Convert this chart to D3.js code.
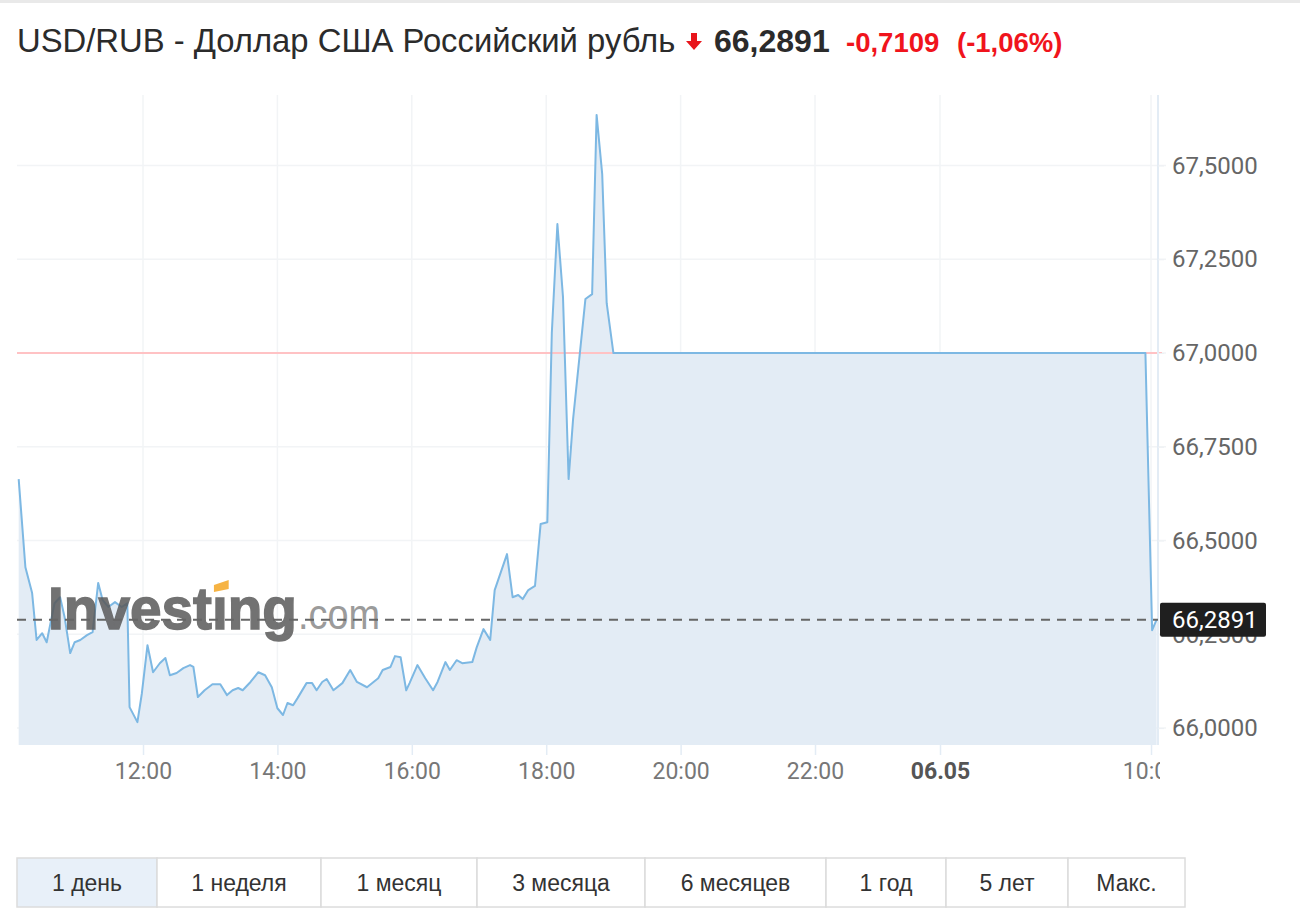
<!DOCTYPE html>
<html>
<head>
<meta charset="utf-8">
<script src="https://cdn.jsdelivr.net/npm/d3@7"></script>
<style>
  body { margin: 0; background: #fff; }
</style>
</head>
<body>
<div id="chart"></div>
<script>
// USD/RUB intraday, 05.05 10:09 -> 06.05 10:05
const day1Times = ["10:09","10:15","10:21","10:25","10:30","10:34","10:41","10:46","10:50","10:55",
  "10:59","11:04","11:10","11:15","11:20","11:24","11:29","11:35","11:41","11:46",
  "11:48","11:55","11:59","12:04","12:09","12:15","12:20","12:24","12:30","12:36",
  "12:42","12:45","12:49","12:55","13:02","13:09","13:15","13:20","13:25","13:29",
  "13:36","13:43","13:49","13:55","14:00","14:05","14:09","14:14","14:18","14:26",
  "14:31","14:35","14:40","14:44","14:50","14:58","15:05","15:11","15:20","15:30",
  "15:34","15:41","15:45","15:50","15:55","15:58","16:05","16:12","16:19","16:23",
  "16:30","16:34","16:40","16:45","16:54","16:58","17:04","17:10","17:14","17:25",
  "17:30","17:35","17:39","17:44","17:50","17:55","18:01","18:05","18:10","18:15",
  "18:20","18:24","18:35","18:41","18:45","18:50","18:54","19:00"];
const day1Values = [66.664,66.429,66.360,66.235,66.253,66.229,66.333,66.349,66.296,66.200,
  66.229,66.235,66.248,66.256,66.387,66.341,66.323,66.336,66.323,66.333,
  66.056,66.016,66.093,66.221,66.149,66.173,66.187,66.141,66.147,66.160,
  66.168,66.163,66.083,66.101,66.117,66.117,66.088,66.101,66.107,66.101,
  66.123,66.149,66.141,66.109,66.053,66.035,66.067,66.061,66.080,66.120,
  66.120,66.101,66.123,66.131,66.101,66.120,66.155,66.123,66.109,66.133,
  66.155,66.163,66.192,66.189,66.101,66.120,66.168,66.133,66.101,66.123,
  66.176,66.155,66.181,66.173,66.176,66.216,66.264,66.235,66.368,66.464,
  66.349,66.355,66.344,66.368,66.379,66.544,66.549,67.053,67.344,67.149,
  66.664,66.824,67.144,67.157,67.635,67.477,67.133,67.000];
const day2Times = ["09:55","10:01","10:05"];
const day2Values = [67.000,66.261,66.2891];

const prevClose = 67.0;
const lastPrice = 66.2891;
const change = -0.7109;
const changePct = -1.06;

const xTickHours = [12, 14, 16, 18, 20, 22, 23.86, 27];
const xTickLabels = ["12:00","14:00","16:00","18:00","20:00","22:00","06.05","10:00"];
const yTicks = [66, 66.25, 66.5, 66.75, 67, 67.25, 67.5];
const ranges = ["1 день","1 неделя","1 месяц","3 месяца","6 месяцев","1 год","5 лет","Макс."];

const W = 1300, H = 922;
const PLOT = {LEFT: 17, RIGHT: 1158, TOP: 95, BOTTOM: 745};

// chart hours: night gap 00:00-07:00 is cut out, so day 2 is shifted by 17h
function toHours(s, day) {
  const [h, m] = s.split(":").map(Number);
  return h + m / 60 + (day === 2 ? 17 : 0);
}
const data = day1Times.map((t, i) => ({t: toHours(t, 1), v: day1Values[i]}))
  .concat(day2Times.map((t, i) => ({t: toHours(t, 2), v: day2Values[i]})));

const ru = d3.formatLocale({decimal: ",", thousands: " ", grouping: [3], currency: ["", ""], minus: "-"});
const fmt4 = ru.format(".4f");
const fmt2 = ru.format(".2f");

const svg = d3.select("#chart").append("svg")
  .attr("width", W).attr("height", H)
  .style("font-family", "'Liberation Sans', Arial, sans-serif");

svg.append("rect").attr("x", 0).attr("y", 0).attr("width", W).attr("height", 3).attr("fill", "#e9e9e9");

const x = d3.scaleLinear().domain([10.125, 27.104]).range([PLOT.LEFT, PLOT.RIGHT]);
const y = d3.scaleLinear().domain([65.955, 67.688]).range([PLOT.BOTTOM, PLOT.TOP]);

// title
svg.append("text").attr("x", 17).attr("y", 52)
  .attr("font-size", 32.8).attr("fill", "#2b2b2b")
  .text("USD/RUB - Доллар США Российский рубль");
svg.append("path")
  .attr("d", "M691,33 h6 v8 h5 l-8,9 l-8,-9 h5 z")
  .attr("fill", "#e8161c");
svg.append("text").attr("x", 714).attr("y", 52)
  .attr("font-size", 32).attr("font-weight", "bold").attr("fill", "#2b2b2b")
  .text(fmt4(lastPrice));
svg.append("text").attr("x", 846).attr("y", 52)
  .attr("font-size", 27.5).attr("font-weight", "bold").attr("fill", "#f0141c")
  .text(fmt4(change));
svg.append("text").attr("x", 957).attr("y", 52)
  .attr("font-size", 27.5).attr("font-weight", "bold").attr("fill", "#f0141c")
  .text("(" + fmt2(changePct) + "%)");

// grid
const grid = svg.append("g").attr("stroke", "#f2f4f6").attr("stroke-width", 1.5);
grid.selectAll("line.h").data(yTicks).join("line").attr("class", "h")
  .attr("x1", PLOT.LEFT).attr("x2", PLOT.RIGHT + 8)
  .attr("y1", d => y(d)).attr("y2", d => y(d));
grid.selectAll("line.v").data(xTickHours).join("line").attr("class", "v")
  .attr("x1", d => x(d)).attr("x2", d => x(d))
  .attr("y1", PLOT.TOP).attr("y2", PLOT.BOTTOM);

// area + line
svg.append("path").datum(data)
  .attr("d", d3.area().x(d => x(d.t)).y0(PLOT.BOTTOM).y1(d => y(d.v)))
  .attr("fill", "#e3ecf5");

svg.append("line")
  .attr("x1", PLOT.LEFT).attr("x2", PLOT.RIGHT + 4)
  .attr("y1", y(prevClose)).attr("y2", y(prevClose))
  .attr("stroke", "#ffc2c4").attr("stroke-width", 2);

svg.append("path").datum(data)
  .attr("d", d3.line().x(d => x(d.t)).y(d => y(d.v)))
  .attr("fill", "none").attr("stroke", "#7db8e3").attr("stroke-width", 2)
  .attr("stroke-linejoin", "round");

// right border of plot
svg.append("line").attr("x1", PLOT.RIGHT).attr("x2", PLOT.RIGHT)
  .attr("y1", PLOT.TOP).attr("y2", PLOT.BOTTOM)
  .attr("stroke", "#e3ecf5").attr("stroke-width", 2);

// watermark
const wm = svg.append("g").attr("opacity", 0.85);
const inv = wm.append("text").attr("x", 48).attr("y", 629)
  .attr("font-size", 60).attr("font-weight", "bold").attr("fill", "#5a5a5a")
  .attr("stroke", "#5a5a5a").attr("stroke-width", 1.5)
  .attr("textLength", 249).attr("lengthAdjust", "spacingAndGlyphs")
  .text("Investıng");
wm.append("text").attr("x", 298).attr("y", 629)
  .attr("font-size", 42).attr("fill", "#8a8a8a")
  .attr("textLength", 82).attr("lengthAdjust", "spacingAndGlyphs")
  .text(".com");
const dot = inv.node().getExtentOfChar(6);
wm.append("path")
  .attr("d", `M${dot.x + 2},${585} l${dot.width - 1},-5 v9 l-${dot.width - 1},3 z`)
  .attr("fill", "#f5a623");

// last price dashed line
svg.append("line")
  .attr("x1", PLOT.LEFT).attr("x2", PLOT.RIGHT)
  .attr("y1", y(lastPrice)).attr("y2", y(lastPrice))
  .attr("stroke", "#666").attr("stroke-width", 2).attr("stroke-dasharray", "9,7");

// x axis (last label is cut by the plot edge, as on the site)
svg.append("clipPath").attr("id", "xclip")
  .append("rect").attr("x", 0).attr("y", 0).attr("width", PLOT.RIGHT + 2).attr("height", 60);
const xAxis = svg.append("g").attr("clip-path", "url(#xclip)")
  .attr("transform", `translate(0,${PLOT.BOTTOM})`)
  .call(d3.axisBottom(x).tickValues(xTickHours).tickFormat((d, i) => xTickLabels[i]).tickSize(10).tickPadding(8));
xAxis.select(".domain").remove();
xAxis.selectAll(".tick line").attr("stroke", "#e3ecf5").attr("stroke-width", 1.5);
xAxis.selectAll(".tick text")
  .attr("font-family", "Roboto, sans-serif").attr("font-size", 23)
  .attr("fill", (d, i) => xTickLabels[i] === "06.05" ? "#555" : "#777")
  .attr("font-weight", (d, i) => xTickLabels[i] === "06.05" ? "bold" : "normal");

// y axis
const yAxis = svg.append("g")
  .attr("transform", `translate(${PLOT.RIGHT},0)`)
  .call(d3.axisRight(y).tickValues(yTicks).tickFormat(fmt4).tickSize(6).tickPadding(8));
yAxis.select(".domain").remove();
yAxis.selectAll(".tick line").attr("stroke", "#eef1f4");
yAxis.selectAll(".tick text")
  .attr("font-family", "Roboto, sans-serif").attr("font-size", 24).attr("fill", "#666");

// last price tag
const tag = svg.append("g").attr("transform", `translate(${PLOT.RIGHT + 2},${y(lastPrice)})`);
tag.append("rect").attr("x", 0).attr("y", -17).attr("width", 106).attr("height", 34)
  .attr("rx", 2).attr("fill", "#1f1f1f");
tag.append("text").attr("x", 12).attr("y", 0).attr("dy", "0.35em")
  .attr("font-family", "Roboto, sans-serif").attr("font-size", 24).attr("fill", "#fff")
  .text(fmt4(lastPrice));

// range buttons
const btnEdges = [17, 157, 321, 477, 645, 826, 946, 1068, 1185];
const btn = svg.append("g").selectAll("g").data(ranges).join("g");
btn.append("rect")
  .attr("x", (d, i) => btnEdges[i]).attr("y", 858)
  .attr("width", (d, i) => btnEdges[i + 1] - btnEdges[i]).attr("height", 49)
  .attr("fill", (d, i) => i === 0 ? "#e8f0f9" : "#fff")
  .attr("stroke", "#dcdcdc").attr("stroke-width", 1.5);
btn.append("text")
  .attr("x", (d, i) => (btnEdges[i] + btnEdges[i + 1]) / 2).attr("y", 883).attr("dy", "0.35em")
  .attr("text-anchor", "middle").attr("font-size", 23).attr("fill", "#333")
  .text(d => d);
</script>
</body>
</html>
